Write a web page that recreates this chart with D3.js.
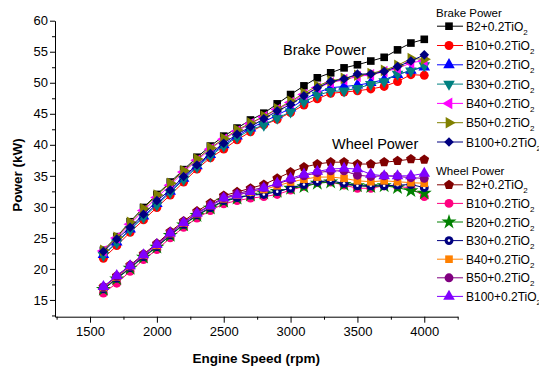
<!DOCTYPE html>
<html>
<head>
<meta charset="utf-8">
<script src="https://cdn.jsdelivr.net/npm/d3@7"></script>
<style>
    body { margin: 0; background: #fff; }
    svg { font-family: "Liberation Sans", Arial, sans-serif; }
</style>
</head>
<body>
<svg class="chart" width="539" height="369"></svg>
<script>
const SPEED = [1600, 1700, 1800, 1900, 2000, 2100, 2200, 2300, 2400, 2500, 2600, 2700, 2800,
    2900, 3000, 3100, 3200, 3300, 3400, 3500, 3600, 3700, 3800, 3900, 4000];

const BLEND_LABELS = ['B2', 'B10', 'B20', 'B30', 'B40', 'B50', 'B100'];

// brake power (kW)
const BRAKE_B2 = [23.0, 25.2, 27.6, 29.9, 32.0, 34.0, 36.0, 38.0, 39.8, 41.4, 42.7, 44.0, 45.1,
    46.6, 48.1, 49.5, 50.8, 51.6, 52.4, 52.9, 53.5, 54.1, 55.3, 56.4, 57.0];
const BRAKE_B10 = [21.7, 23.75, 25.9, 27.9, 29.9, 31.9, 34.0, 36.1, 37.9, 39.3, 40.8, 42.1, 43.2,
    44.1, 45.2, 46.4, 47.4, 48.3, 48.5, 48.7, 49.0, 49.4, 50.2, 51.3, 51.2];
const BRAKE_B20 = [22.3, 24.3, 26.4, 28.5, 30.5, 32.5, 34.6, 36.6, 38.4, 40.0, 41.4, 42.7, 43.7,
    44.8, 45.9, 47.3, 48.4, 49.2, 49.4, 49.6, 50.0, 50.5, 51.3, 52.0, 52.5];
const BRAKE_B30 = [22.2, 24.2, 26.3, 28.3, 30.3, 32.3, 34.4, 36.4, 38.2, 39.8, 41.2, 42.4, 43.2,
    44.3, 45.3, 46.9, 48.0, 48.6, 48.7, 49.1, 49.75, 50.2, 51.4, 51.9, 52.75];
const BRAKE_B40 = [22.9, 25.0, 27.2, 29.4, 31.5, 33.5, 35.6, 37.5, 39.3, 40.9, 42.2, 43.4, 44.5,
    45.7, 46.8, 48.1, 49.2, 50.0, 50.5, 51.0, 51.3, 51.8, 52.3, 53.2, 53.6];
const BRAKE_B50 = [23.0, 25.1, 27.5, 29.7, 31.9, 33.8, 35.8, 37.7, 39.5, 41.0, 42.4, 43.5, 44.6,
    45.8, 47.0, 48.3, 49.5, 50.3, 50.7, 51.2, 51.5, 52.0, 52.8, 53.9, 53.8];
const BRAKE_B100 = [22.8, 24.8, 26.7, 28.8, 31.0, 32.7, 34.9, 36.75, 38.6, 40.25, 41.7, 42.9, 44.2,
    45.45, 46.5, 47.9, 49.2, 50.2, 50.6, 51.4, 51.4, 51.8, 52.6, 53.5, 54.5];

// wheel power (kW)
const WHEEL_B2 = [17.1, 18.9, 20.6, 22.4, 24.1, 26.0, 27.7, 29.3, 30.6, 31.8, 32.4, 33.0, 33.6,
    34.6, 35.6, 36.4, 36.9, 37.2, 37.2, 36.9, 36.9, 37.2, 37.4, 37.7, 37.6];
const WHEEL_B10 = [16.1, 17.7, 19.6, 21.5, 23.1, 25.0, 26.7, 28.2, 29.4, 30.5, 31.0, 31.4, 31.65,
    32.0, 32.7, 33.3, 33.9, 34.0, 33.5, 33.0, 33.0, 33.4, 33.25, 33.1, 31.65];
const WHEEL_B20 = [16.7, 18.4, 20.1, 21.9, 23.5, 25.4, 27.1, 28.6, 29.8, 30.9, 31.4, 31.9, 32.2,
    32.5, 33.0, 33.25, 33.8, 34.0, 33.6, 33.4, 33.25, 33.4, 33.1, 32.6, 32.2];
const WHEEL_B30 = [16.8, 18.5, 20.2, 22.0, 23.6, 25.5, 27.2, 28.7, 29.9, 31.0, 31.5, 31.9, 32.0,
    32.45, 33.0, 33.6, 34.05, 34.2, 33.8, 33.4, 33.4, 33.4, 33.5, 33.6, 33.1];
const WHEEL_B40 = [17.0, 18.7, 20.4, 22.2, 23.8, 25.7, 27.4, 28.9, 30.2, 31.3, 31.9, 32.4, 32.8,
    33.4, 34.0, 34.45, 34.8, 34.8, 34.6, 34.2, 34.05, 34.2, 34.05, 33.9, 33.8];
const WHEEL_B50 = [17.1, 18.8, 20.5, 22.3, 24.0, 25.8, 27.5, 29.0, 30.3, 31.5, 32.1, 32.7, 33.1,
    33.7, 34.4, 35.0, 35.5, 35.8, 35.8, 35.1, 34.9, 35.0, 34.9, 34.7, 34.6];
const WHEEL_B100 = [17.15, 18.9, 20.5, 22.25, 23.9, 25.75, 27.45, 28.95, 30.15, 31.4, 31.9, 32.45, 33.0,
    33.8, 34.6, 35.25, 35.7, 36.1, 36.2, 36.1, 35.25, 35.0, 35.0, 35.0, 35.4];

const X_TICKS = [1500, 2000, 2500, 3000, 3500, 4000];
const X_MINOR = [1250, 1750, 2250, 2750, 3250, 3750, 4250];
const Y_TICKS = [15, 20, 25, 30, 35, 40, 45, 50, 55, 60];
const Y_MINOR = [12.5, 17.5, 22.5, 27.5, 32.5, 37.5, 42.5, 47.5, 52.5, 57.5];


function makeChart() {

    const margins = { top: 20.7, left: 55 };
    const WIDTH = 402.7;
    const HEIGHT = 296;

    const brake = [
        { values: BRAKE_B2, color: '#000000', shape: 'square' },
        { values: BRAKE_B10, color: '#ff0000', shape: 'circle' },
        { values: BRAKE_B20, color: '#0000ff', shape: 'triUp' },
        { values: BRAKE_B30, color: '#008080', shape: 'triDown' },
        { values: BRAKE_B40, color: '#ff00ff', shape: 'triLeft' },
        { values: BRAKE_B50, color: '#808000', shape: 'triRight' },
        { values: BRAKE_B100, color: '#000080', shape: 'diamond' }
    ];
    const wheel = [
        { values: WHEEL_B2, color: '#800000', shape: 'pentagon' },
        { values: WHEEL_B10, color: '#ff0080', shape: 'circle' },
        { values: WHEEL_B20, color: '#008000', shape: 'star' },
        { values: WHEEL_B30, color: '#000080', shape: 'circleDot' },
        { values: WHEEL_B40, color: '#ff8000', shape: 'square' },
        { values: WHEEL_B50, color: '#800080', shape: 'circle' },
        { values: WHEEL_B100, color: '#8000ff', shape: 'triUp' }
    ];
    brake.forEach((s, i) => s.label = BLEND_LABELS[i]);
    wheel.forEach((s, i) => s.label = BLEND_LABELS[i]);

    const x = d3.scaleLinear().domain([1238, 4250]).range([0, WIDTH]);
    const y = d3.scaleLinear().domain([12.3, 60]).range([HEIGHT, 0]);

    const symbolPentagon = {
        draw(ctx, size) {
            const r = Math.sqrt(size / 2.378);
            for (let i = 0; i < 5; i++) {
                const a = -Math.PI / 2 + i * 2 * Math.PI / 5;
                if (i === 0) ctx.moveTo(r * Math.cos(a), r * Math.sin(a));
                else ctx.lineTo(r * Math.cos(a), r * Math.sin(a));
            }
            ctx.closePath();
        }
    };

    // draws one marker centred at 0,0 inside g
    function marker(g, shape, color) {
        let type = d3.symbolCircle, size = 62, rot = 0;
        if (shape === 'square') { type = d3.symbolSquare; size = 58; }
        if (shape === 'triUp') { type = d3.symbolTriangle; size = 58; }
        if (shape === 'triDown') { type = d3.symbolTriangle; size = 58; rot = 180; }
        if (shape === 'triLeft') { type = d3.symbolTriangle; size = 58; rot = -90; }
        if (shape === 'triRight') { type = d3.symbolTriangle; size = 58; rot = 90; }
        if (shape === 'diamond') { type = d3.symbolSquare; size = 46; rot = 45; }
        if (shape === 'pentagon') { type = symbolPentagon; size = 62; }
        if (shape === 'star') { type = d3.symbolStar; size = 70; }
        g.append('path')
            .attr('d', d3.symbol().type(type).size(size)())
            .attr('transform', 'rotate(' + rot + ')')
            .attr('fill', color);
        if (shape === 'circleDot') {
            g.append('circle').attr('r', 1.3).attr('fill', '#fff');
        }
    }

    const svg = d3.select('.chart');
    const g = svg.append('g')
        .attr('transform', 'translate(' + margins.left + ',' + margins.top + ')');

    // axes
    g.append('g')
        .attr('transform', 'translate(0,' + HEIGHT + ')')
        .call(d3.axisBottom(x).tickValues(X_TICKS).tickFormat(d3.format('d'))
            .tickSize(6).tickPadding(4).tickSizeOuter(0));
    g.append('g')
        .attr('transform', 'translate(0,' + HEIGHT + ')')
        .call(d3.axisBottom(x).tickValues(X_MINOR).tickSize(3).tickFormat('').tickSizeOuter(0))
        .select('.domain').remove();

    g.append('g')
        .call(d3.axisLeft(y).tickValues(Y_TICKS).tickSize(5).tickPadding(2).tickSizeOuter(0));
    g.append('g')
        .call(d3.axisLeft(y).tickValues(Y_MINOR).tickSize(3).tickFormat('').tickSizeOuter(0))
        .select('.domain').remove();

    g.selectAll('.tick line').attr('stroke', '#000');
    g.selectAll('.domain').attr('stroke', '#000');
    g.selectAll('.tick text')
        .attr('fill', '#000')
        .style('font-size', '13px')
        .style('font-family', '"Liberation Sans", Arial, sans-serif');

    svg.append('text')
        .attr('x', margins.left + WIDTH / 2)
        .attr('y', 363)
        .attr('text-anchor', 'middle')
        .style('font-weight', 'bold')
        .style('font-size', '13.5px')
        .text('Engine Speed (rpm)');

    svg.append('text')
        .attr('transform', 'translate(21.5,175) rotate(-90)')
        .attr('text-anchor', 'middle')
        .style('font-weight', 'bold')
        .style('font-size', '13.5px')
        .text('Power (kW)');

    // series
    const line = d3.line()
        .x((d, i) => x(SPEED[i]))
        .y(d => y(d));

    function drawSeries(list) {
        list.forEach(s => {
            g.append('path')
                .attr('d', line(s.values))
                .attr('fill', 'none')
                .attr('stroke', s.color)
                .attr('stroke-width', 1);
            s.values.forEach((v, i) => {
                const m = g.append('g')
                    .attr('transform', 'translate(' + x(SPEED[i]) + ',' + y(v) + ')');
                marker(m, s.shape, s.color);
            });
        });
    }
    drawSeries(brake);
    drawSeries(wheel);

    // annotations
    svg.append('text')
        .attr('x', 283).attr('y', 55)
        .style('font-size', '14.5px')
        .text('Brake Power');
    svg.append('text')
        .attr('x', 332).attr('y', 149)
        .style('font-size', '14.5px')
        .text('Wheel Power');

    // legends
    function legend(list, title, titleY, rowY, step) {
        const lg = svg.append('g').attr('transform', 'translate(436,0)');
        lg.append('text')
            .attr('x', 0).attr('y', titleY)
            .style('font-size', '11.5px')
            .text(title);
        list.forEach((s, i) => {
            const cy = rowY + i * step;
            lg.append('line')
                .attr('x1', 1).attr('x2', 27)
                .attr('y1', cy).attr('y2', cy)
                .attr('stroke', s.color);
            const m = lg.append('g').attr('transform', 'translate(13,' + cy + ')');
            marker(m, s.shape, s.color);
            const t = lg.append('text')
                .attr('x', 30).attr('y', cy + 4.5)
                .style('font-size', '12px');
            t.append('tspan').text(s.label + '+0.2TiO');
            t.append('tspan').attr('dy', 4).style('font-size', '8px').text('2');
        });
    }
    legend(brake, 'Brake Power', 16.5, 26.2, 19.3);
    legend(wheel, 'Wheel Power', 175, 184.8, 18.6);
}

makeChart();
</script>
</body>
</html>
